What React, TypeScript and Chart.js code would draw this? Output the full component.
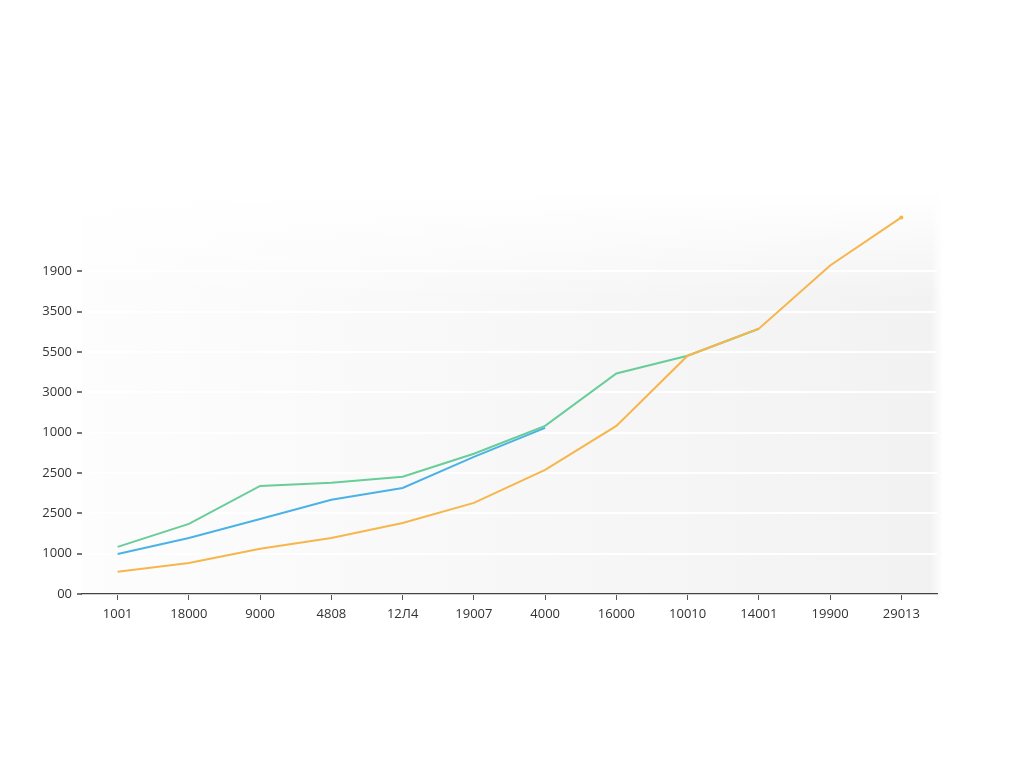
import React, { useEffect, useRef } from "react";
import { Chart, registerables } from "chart.js";

Chart.register(...registerables);

// Category labels along the bottom axis
const xLabels = [
  "1001", "18000", "9000", "4808", "12Л4", "19007",
  "4000", "16000", "10010", "14001", "19900", "29013",
];

// Labels drawn at each horizontal level, from the baseline upward
const yTickLabels = ["00", "1000", "2500", "2500", "1000", "3000", "5500", "3500", "1900"];

// Series values, measured in grid steps above the baseline
const greenSeries = [1.17, 1.74, 2.68, 2.76, 2.91, 3.48, 4.17, 5.47, 5.91, 6.58, null, null];
const blueSeries = [0.99, 1.39, 1.86, 2.34, 2.63, 3.4, 4.12, null, null, null, null, null];
const orangeSeries = [0.55, 0.77, 1.12, 1.39, 1.76, 2.26, 3.08, 4.17, 5.91, 6.58, 8.15, 9.34];

const FONT = { family: "'Open Sans', 'Noto Sans', sans-serif", size: 13 };

// Soft grey wash behind the plot: darker to the right, fading out upward
const plotBackground = {
  id: "plotBackground",
  beforeDraw(chart: any) {
    const { ctx, chartArea } = chart;
    if (!chartArea) return;
    const { left, right, top, bottom } = chartArea;
    const x0 = left;
    const x1 = right + 6;
    const y0 = top - 20;
    ctx.save();
    const g = ctx.createLinearGradient(x0, 0, x1, 0);
    g.addColorStop(0, "rgba(253,253,253,1)");
    g.addColorStop(0.45, "rgba(248,248,248,1)");
    g.addColorStop(1, "rgba(242,242,242,1)");
    ctx.fillStyle = g;
    ctx.fillRect(x0, y0, x1 - x0, bottom - y0);
    const v = ctx.createLinearGradient(0, y0, 0, top + 90);
    v.addColorStop(0, "rgba(255,255,255,1)");
    v.addColorStop(1, "rgba(255,255,255,0)");
    ctx.fillStyle = v;
    ctx.fillRect(x0, y0, x1 - x0, top + 90 - y0);
    const h = ctx.createLinearGradient(x1 - 12, 0, x1, 0);
    h.addColorStop(0, "rgba(255,255,255,0)");
    h.addColorStop(1, "rgba(255,255,255,1)");
    ctx.fillStyle = h;
    ctx.fillRect(x1 - 12, y0, 12, bottom - y0);
    ctx.restore();
  },
};

export default function App() {
  const canvasRef = useRef<HTMLCanvasElement | null>(null);

  useEffect(() => {
    if (!canvasRef.current) return;
    const chart = new Chart(canvasRef.current, {
      type: "line",
      data: {
        labels: xLabels,
        datasets: [
          {
            label: "orange",
            data: orangeSeries,
            borderColor: "#f6b64c",
            borderWidth: 2,
            pointRadius: orangeSeries.map((_, i) => (i === orangeSeries.length - 1 ? 2 : 0)),
            pointBackgroundColor: "#f6b64c",
            pointBorderWidth: 0,
            tension: 0,
            order: 1,
          },
          {
            label: "blue",
            data: blueSeries,
            borderColor: "#4bb2e6",
            borderWidth: 2,
            pointRadius: 0,
            tension: 0,
            order: 2,
          },
          {
            label: "green",
            data: greenSeries,
            borderColor: "#68cd98",
            borderWidth: 2,
            pointRadius: 0,
            tension: 0,
            order: 3,
          },
        ],
      },
      options: {
        animation: false,
        responsive: false,
        maintainAspectRatio: false,
        layout: { padding: { left: 0, right: 87, top: 211, bottom: 134 } },
        plugins: {
          legend: { display: false },
          tooltip: { enabled: false },
        },
        scales: {
          x: {
            type: "category",
            offset: true,
            grid: {
              offset: false,
              drawOnChartArea: false,
              tickLength: 6,
              tickColor: "#555",
              tickWidth: 1,
            },
            border: { display: true, color: "#444", width: 1.2 },
            ticks: { color: "#333", font: FONT, padding: 6, maxRotation: 0, autoSkip: false },
            afterFit(scale: any) {
              scale.height = 40;
            },
          },
          y: {
            type: "linear",
            min: 0,
            max: 9.5,
            grid: {
              color: "#ffffff",
              lineWidth: 2,
              tickColor: "#777",
              tickLength: 5,
            },
            border: { display: false },
            ticks: {
              stepSize: 1,
              color: "#333",
              font: FONT,
              padding: 5,
              callback: (v: any) => yTickLabels[Number(v)] ?? "",
            },
            afterBuildTicks(scale: any) {
              scale.ticks = scale.ticks.filter(
                (t: any) => Number.isInteger(t.value) && t.value >= 0 && t.value <= 8
              );
            },
            afterFit(scale: any) {
              scale.width = 82;
            },
          },
        },
      },
      plugins: [plotBackground],
    });
    return () => chart.destroy();
  }, []);

  return (
    <div style={{ position: "absolute", left: 0, top: 0, width: 1024, height: 768, background: "#fff" }}>
      <canvas ref={canvasRef} width={1024} height={768} />
    </div>
  );
}
